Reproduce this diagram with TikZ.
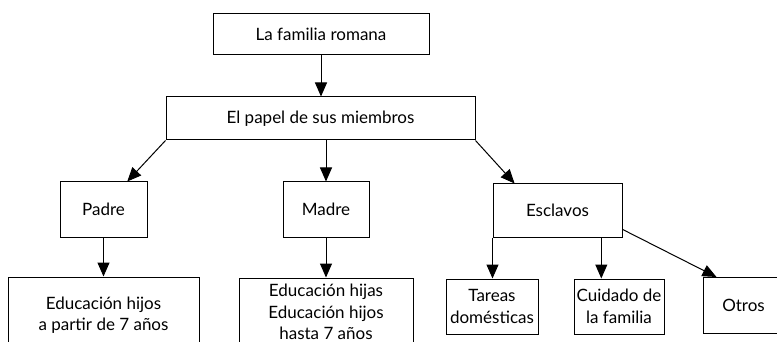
\documentclass[tikz,border=0pt]{standalone}
\usepackage{fontspec}
\setmainfont{Lato}
\usetikzlibrary{arrows.meta,calc}
\begin{document}
\begin{tikzpicture}[x=1pt,y=-1pt,
  box/.style={draw, line width=1pt, inner sep=0pt, align=center,
    font=\fontsize{17}{21.5}\selectfont},
  conn/.style={line width=1pt, -{Triangle[length=14pt,width=12pt]}}]
\useasboundingbox (0,0) rectangle (777,342);
\node[box, minimum width=216pt, minimum height=41pt] (top) at (321,34.5) {La familia romana};
\node[box, minimum width=309pt, minimum height=43pt] (mem) at (320.5,118.5) {El papel de sus miembros};
\node[box, minimum width=87pt, minimum height=55pt] (padre) at (103.5,209.5) {Padre};
\node[box, minimum width=86pt, minimum height=55pt] (madre) at (326,209.5) {Madre};
\node[box, minimum width=129pt, minimum height=53pt] (escl) at (557.5,210.5) {Esclavos};
\node[box, minimum width=191pt, minimum height=76pt] (ph) at (103.5,315) {Educación hijos\\a partir de 7 años};
\node[box, minimum width=174pt, minimum height=68pt] (mh) at (326,312) {Educación hijas\\Educación hijos\\hasta 7 años};
\node[box, minimum width=92pt, minimum height=55pt] (tareas) at (492,306.5) {Tareas\\domésticas};
\node[box, minimum width=90pt, minimum height=55pt] (cuidado) at (619,306.5) {Cuidado de\\la familia};
\node[box, minimum width=81pt, minimum height=56pt] (otros) at (743.5,305.5) {Otros};
\draw[conn] (top.south) -- (top.south |- mem.north);
\draw[conn] (mem.south west) -- ($(padre.north west)!0.77!(padre.north east)$);
\draw[conn] (madre.north |- mem.south) -- (madre.north);
\draw[conn] (mem.south east) -- ($(escl.north west)!0.17!(escl.north east)$);
\draw[conn] (padre.south) -- (padre.south |- ph.north);
\draw[conn] (madre.south) -- (madre.south |- mh.north);
\draw[conn] (escl.south west) -- (escl.south west |- tareas.north);
\coordinate (ec) at ($(escl.south west)!0.837!(escl.south east)$);
\draw[conn] (ec) -- (ec |- cuidado.north);
\coordinate (eo) at ($(escl.north east)!0.85!(escl.south east)$);
\draw[conn] (eo) -- ($(otros.north west)+(14,0)$);
\end{tikzpicture}
\end{document}
